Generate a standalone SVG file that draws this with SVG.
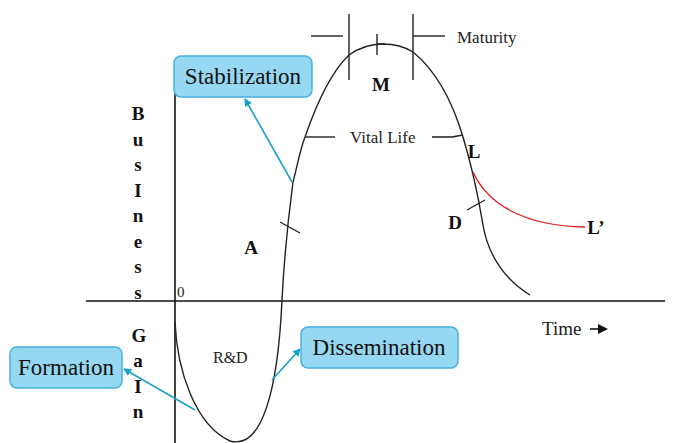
<svg xmlns="http://www.w3.org/2000/svg" width="676" height="443" viewBox="0 0 676 443">
<style>
.ln{stroke:#222;stroke-width:1.4;fill:none}
.ax{stroke:#111;stroke-width:1.6;fill:none}
.bx{fill:#96d7f2;stroke:#46b2dd;stroke-width:1.5}
.bt{font-family:"Liberation Serif","Times New Roman",serif;font-size:23px;fill:#111;text-anchor:middle}
.lb{font-family:"Liberation Serif","Times New Roman",serif;font-size:19px;font-weight:bold;fill:#111;text-anchor:middle}
.sm{font-family:"Liberation Serif","Times New Roman",serif;fill:#222}
.cn{stroke:#1ba1cc;stroke-width:1.6;fill:none;marker-end:url(#ah)}
</style>
<defs>
<marker id="ah" markerWidth="8" markerHeight="8" refX="7" refY="4" orient="auto" markerUnits="userSpaceOnUse">
<path d="M0,0 L8,4 L0,8 Z" fill="#1ba1cc"/>
</marker>
</defs>
<rect width="676" height="443" fill="#fff"/>
<g id="axes">
<line class="ax" x1="175" y1="60" x2="175" y2="443"/>
<line class="ax" x1="86" y1="301" x2="665" y2="301"/>
<text class="sm" x="177" y="297" style="font-size:15px">0</text>
</g>
<g id="curve">
<path class="ln" d="M175,322 C177,370 195,425 230,441 C262,450 278,390 282,300 C284,260 288,220 293,182 C297,167 300,150 305,137 C315,108 330,73 349,55 C360,47 370,44 383,44 C395,44 405,47 413,52 C435,70 452,100 463,137 C470,160 478,195 483,225 C488,255 505,280 530,295"/>
<path d="M473,172 C488,205 525,226 585,227" fill="none" stroke="#e02020" stroke-width="1.4"/>
</g>
<g id="marks">
<line class="ln" x1="349" y1="14" x2="349" y2="80"/>
<line class="ln" x1="311" y1="36" x2="343" y2="36"/>
<line class="ln" x1="413" y1="14" x2="413" y2="80"/>
<line class="ln" x1="413" y1="36" x2="445" y2="36"/>
<path class="ln" d="M377,34 L377,55 M377,44 L385,44"/>
<line class="ln" x1="305" y1="137" x2="335" y2="137"/>
<path class="ln" d="M432,137 L452,137 L463,135"/>
<line class="ln" x1="280" y1="222" x2="300" y2="233"/>
<line class="ln" x1="467" y1="210" x2="485" y2="200"/>
</g>
<g id="labels">
<text class="sm" x="457" y="43" style="font-size:17px">Maturity</text>
<text class="sm" x="350" y="143" style="font-size:17px">Vital Life</text>
<text class="sm" x="213" y="363" style="font-size:16px">R&amp;D</text>
<text class="sm" x="542" y="335" style="font-size:19px">Time</text>
<path d="M590,329 L600,329" stroke="#111" stroke-width="1.6"/>
<path d="M598,324 L608,329 L598,334 Z" fill="#111"/>
<text class="lb" x="381" y="91">M</text>
<text class="lb" x="474" y="158">L</text>
<text class="lb" x="455" y="229">D</text>
<text class="lb" x="596" y="234">L’</text>
<text class="lb" x="251" y="254">A</text>
</g>
<g id="axis-label">
<text class="lb" x="138" y="120">B</text>
<text class="lb" x="138" y="145.5">u</text>
<text class="lb" x="138" y="171">s</text>
<text class="lb" x="138" y="196.5">I</text>
<text class="lb" x="138" y="222">n</text>
<text class="lb" x="138" y="247.5">e</text>
<text class="lb" x="138" y="273">s</text>
<text class="lb" x="138" y="298.5">s</text>
<text class="lb" x="139" y="342">G</text>
<text class="lb" x="138" y="367">a</text>
<text class="lb" x="138" y="393">I</text>
<text class="lb" x="138" y="418">n</text>
</g>
<g id="connectors">
<line class="cn" x1="292" y1="182" x2="245" y2="99"/>
<line class="cn" x1="195" y1="410" x2="124" y2="369"/>
<line class="cn" x1="272" y1="380" x2="300" y2="349"/>
</g>
<g id="stabilization">
<rect class="bx" x="174" y="56" width="138" height="41" rx="7"/>
<text class="bt" x="243" y="84">Stabilization</text>
</g>
<g id="formation">
<rect class="bx" x="10" y="347" width="112" height="41" rx="7"/>
<text class="bt" x="66" y="375">Formation</text>
</g>
<g id="dissemination">
<rect class="bx" x="301" y="327" width="157" height="41" rx="7"/>
<text class="bt" x="379" y="355">Dissemination</text>
</g>
</svg>
